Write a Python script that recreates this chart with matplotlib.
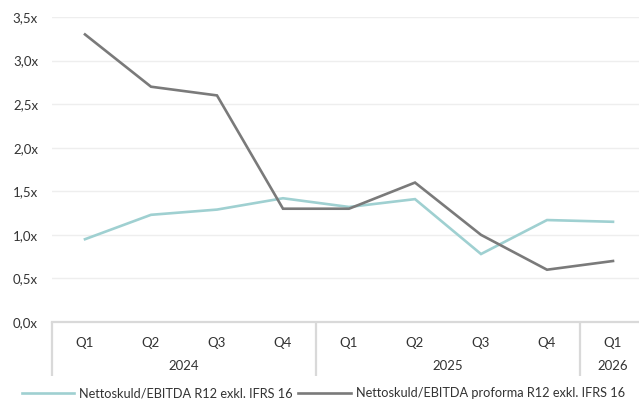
import numpy as np
import matplotlib.pyplot as plt
import matplotlib.transforms as mtransforms

plt.rcParams['font.family'] = ['Lato', 'DejaVu Sans']

# Kvartal och år på x-axeln
kvartal = ['Q1', 'Q2', 'Q3', 'Q4', 'Q1', 'Q2', 'Q3', 'Q4', 'Q1']
ar = ['2024', '2025', '2026']
kvartal_per_ar = [4, 4, 1]

# Nyckeltal (gånger)
nettoskuld = [0.95, 1.23, 1.29, 1.42, 1.32, 1.41, 0.78, 1.17, 1.15]
nettoskuld_proforma = [3.3, 2.7, 2.6, 1.3, 1.3, 1.6, 1.0, 0.6, 0.7]

etikett1 = 'Nettoskuld/EBITDA R12 exkl. IFRS 16'
etikett2 = 'Nettoskuld/EBITDA proforma R12 exkl. IFRS 16'

farg_teal = '#9fd0d1'
farg_gra = '#7a7a7a'
textfarg = '#333333'
fs = 9.5

W, H = 639, 400
fig = plt.figure(figsize=(W / 100, H / 100), dpi=100)
ax = fig.add_axes([52 / W, 78 / H, 594 / W, 305 / H])

x = np.arange(len(kvartal))
ax.plot(x, nettoskuld, color=farg_teal, lw=1.9, label=etikett1, solid_joinstyle='miter')
ax.plot(x, nettoskuld_proforma, color=farg_gra, lw=1.9, label=etikett2, solid_joinstyle='miter')

ax.set_xlim(-0.5, len(kvartal) - 0.5)
ax.set_ylim(0, 3.5)
yt = np.arange(0, 3.51, 0.5)
ax.set_yticks(yt)
ax.set_yticklabels([f'{v:.1f}x'.replace('.', ',') for v in yt], fontsize=fs, color=textfarg)
ax.yaxis.grid(True, color='#eeeeee', lw=1)
ax.set_axisbelow(True)
ax.tick_params(axis='y', length=0, pad=10)

ax.set_xticks(x)
ax.set_xticklabels(kvartal, fontsize=fs, color=textfarg)
ax.tick_params(axis='x', length=0, pad=11)

for side in ['top', 'right', 'left']:
    ax.spines[side].set_visible(False)
ax.spines['bottom'].set_color('#d9d9d9')
ax.spines['bottom'].set_linewidth(1.6)

# Årsgrupper under kvartalen
trans = mtransforms.blended_transform_factory(ax.transData, ax.transAxes)
start = 0
grans = [-0.5]
for namn, n in zip(ar, kvartal_per_ar):
    mitt = start + (n - 1) / 2
    ax.text(mitt, -0.145, namn, transform=trans, ha='center', va='center',
            fontsize=fs, color=textfarg)
    start += n
    grans.append(start - 0.5)
for g in grans[:-1]:
    ax.plot([g, g], [0, -0.177], transform=trans, color='#d9d9d9', lw=1.6,
            clip_on=False, solid_capstyle='butt')

fig.legend(loc='center left', bbox_to_anchor=(22 / W, 7 / H), ncol=2, frameon=False,
           fontsize=9.2, handlelength=4.1, handletextpad=0.4, columnspacing=0.4,
           borderpad=0, borderaxespad=0, labelcolor=textfarg)

fig.savefig('out.png', dpi=100)
